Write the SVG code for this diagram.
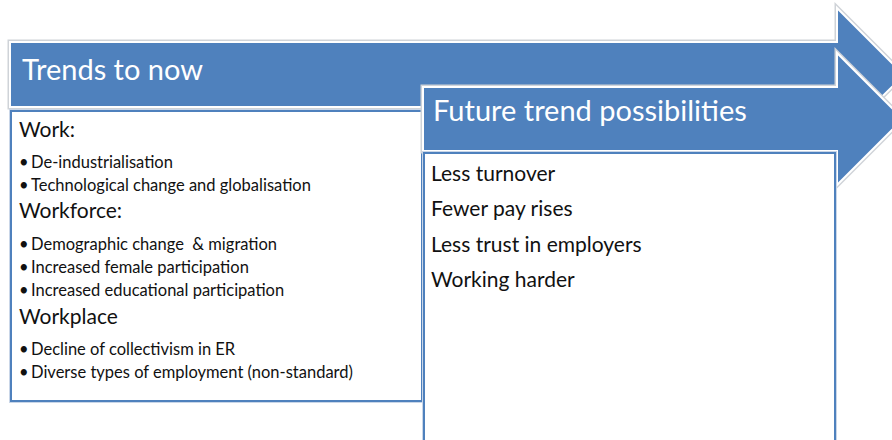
<svg xmlns="http://www.w3.org/2000/svg" width="892" height="440" viewBox="0 0 892 440">
<style>
.arrow-sh{fill:none;stroke:#cfd3d8;stroke-width:5;stroke-linejoin:miter}
.arrow{fill:#4F81BD;stroke:#ffffff;stroke-width:2;stroke-linejoin:miter}
.box-sh{fill:none;stroke:#c9d6e8;stroke-width:4}
.box{fill:#ffffff;stroke:#4F81BD;stroke-width:2}
.title{font-family:Lato,"Liberation Sans",sans-serif;font-size:29px;fill:#ffffff}
.head{font-family:Lato,"Liberation Sans",sans-serif;font-size:21px;fill:#111111}
.bul{font-family:Lato,"Liberation Sans",sans-serif;font-size:16.5px;fill:#111111;white-space:pre}
.dot{font-family:Lato,"Liberation Sans",sans-serif;font-size:16.5px;fill:#111111}
.item{font-family:Lato,"Liberation Sans",sans-serif;font-size:21px;fill:#111111}
</style>
<rect width="892" height="440" fill="#ffffff"/>
<g id="trends-arrow">
<polygon class="arrow-sh" points="10,42 837,42 837,8 904,75 837,141 837,107 10,107"/>
<polygon class="arrow" points="10,42 837,42 837,8 904,75 837,141 837,107 10,107"/>
<text class="title" x="22" y="80">Trends to now</text>
</g>
<g id="trends-box">
<rect class="box-sh" x="11" y="111" width="411" height="290"/>
<rect class="box" x="11" y="111" width="411" height="290"/>
<text class="head" x="19" y="137">Work:</text>
<text class="dot" x="19" y="168">•</text>
<text class="bul" x="31" y="168">De-industrialisation</text>
<text class="dot" x="19" y="191">•</text>
<text class="bul" x="31" y="191">Technological change and globalisation</text>
<text class="head" x="19" y="218">Workforce:</text>
<text class="dot" x="19" y="250">•</text>
<text class="bul" x="31" y="250">Demographic change  &amp; migration</text>
<text class="dot" x="19" y="273">•</text>
<text class="bul" x="31" y="273">Increased female participation</text>
<text class="dot" x="19" y="296">•</text>
<text class="bul" x="31" y="296">Increased educational participation</text>
<text class="head" x="19" y="324">Workplace</text>
<text class="dot" x="19" y="355">•</text>
<text class="bul" x="31" y="355">Decline of collectivism in ER</text>
<text class="dot" x="19" y="378">•</text>
<text class="bul" x="31" y="378">Diverse types of employment (non-standard)</text>
</g>
<g id="future-arrow">
<polygon class="arrow-sh" points="423,87 837,87 837,53 903,119 837,185 837,151 423,151"/>
<polygon class="arrow" points="423,87 837,87 837,53 903,119 837,185 837,151 423,151"/>
<text class="title" x="433" y="121">Future trend possibilities</text>
</g>
<g id="future-box">
<rect class="box-sh" x="424" y="153" width="411" height="300"/>
<rect class="box" x="424" y="153" width="411" height="300"/>
<text class="item" x="431" y="181">Less turnover</text>
<text class="item" x="431" y="216">Fewer pay rises</text>
<text class="item" x="431" y="252">Less trust in employers</text>
<text class="item" x="431" y="287">Working harder</text>
</g>
</svg>
